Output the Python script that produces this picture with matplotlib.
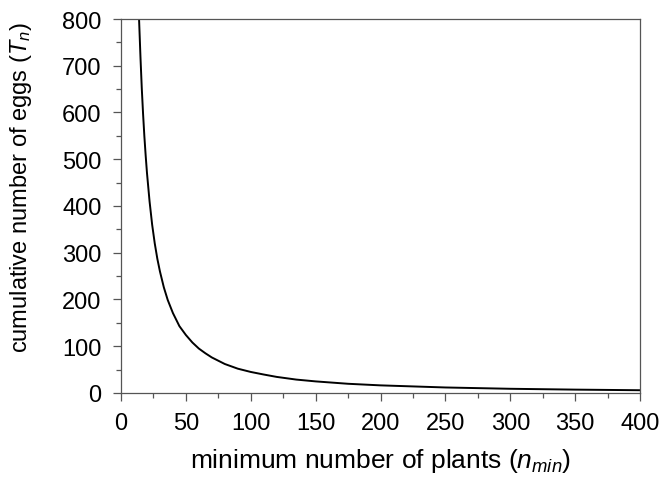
import matplotlib
matplotlib.use("Agg")
import matplotlib.pyplot as plt
from matplotlib.ticker import MultipleLocator

# values
n_min = [13.9, 15, 16, 17, 18, 19, 20, 22, 24, 26, 28, 30, 33, 36, 40, 45, 50,
         55, 60, 65, 70, 80, 90, 100, 110, 120, 135, 150, 175, 200, 250, 300,
         350, 400]
T_n = [800, 718, 652, 597, 549, 508, 471, 410, 360, 320, 287, 260, 226, 199,
       171, 143, 124, 108, 95, 85, 76, 62, 52, 45, 39.5, 34.4, 28.7, 24.8,
       19.7, 16.3, 11.8, 9.0, 7.2, 5.9]

plt.rcParams["font.family"] = ["Liberation Sans", "DejaVu Sans"]
plt.rcParams["mathtext.fontset"] = "custom"
plt.rcParams["mathtext.rm"] = "Liberation Sans"
plt.rcParams["mathtext.it"] = "Liberation Sans:italic"

fig = plt.figure(figsize=(6.62, 4.89), dpi=100)
ax = fig.add_axes([0.1828, 0.1943, 0.7840, 0.7648])

ax.plot(n_min, T_n, color="black", lw=1.4, solid_joinstyle="round")

ax.set_xlim(0, 400)
ax.set_ylim(0, 800)
ax.xaxis.set_major_locator(MultipleLocator(50))
ax.xaxis.set_minor_locator(MultipleLocator(25))
ax.yaxis.set_major_locator(MultipleLocator(100))
ax.yaxis.set_minor_locator(MultipleLocator(50))

for s in ax.spines.values():
    s.set_color("#555555")
    s.set_linewidth(0.9)
ax.tick_params(which="major", direction="out", length=6, width=0.9, color="#555555",
               labelsize=17, pad=8)
ax.tick_params(which="minor", direction="out", length=3.5, width=0.9, color="#555555")
ax.tick_params(axis="x", which="major", pad=8)

ax.set_xlabel(r"minimum number of plants ($\mathit{n_{min}}$)", fontsize=19, labelpad=8)
ax.set_ylabel(r"cumulative number of eggs ($\mathit{T_n}$)", fontsize=17)
ax.yaxis.set_label_coords(-0.168, 0.553)

plt.savefig("out.png", dpi=100)
plt.close()
